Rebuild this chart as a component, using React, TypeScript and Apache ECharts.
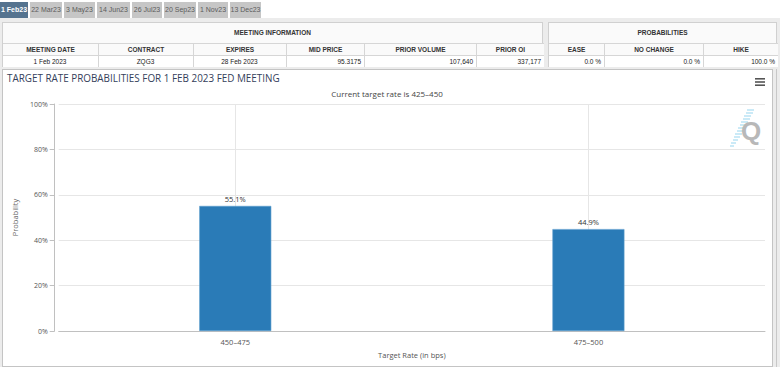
import React, { useEffect, useRef } from "react";
import * as echarts from "echarts";

const tabs = ["1 Feb23", "22 Mar23", "3 May23", "14 Jun23", "26 Jul23", "20 Sep23", "1 Nov23", "13 Dec23"];
const tabEdges = [0, 30, 64, 97, 132, 164, 198, 230, 263];

const meetingHeaders = ["MEETING DATE", "CONTRACT", "EXPIRES", "MID PRICE", "PRIOR VOLUME", "PRIOR OI"];
const meetingValues = ["1 Feb 2023", "ZQG3", "28 Feb 2023", "95.3175", "107,640", "337,177"];
const meetingAlign = ["center", "center", "center", "right", "right", "right"];
const meetingEdges = [2, 97, 192, 285, 363, 475, 543];

const probHeaders = ["EASE", "NO CHANGE", "HIKE"];
const probValues = ["0.0 %", "0.0 %", "100.0 %"];
const probEdges = [548, 603, 702, 777];

const categories = ["450–475", "475–500"];
const probabilities = [55.1, 44.9];

const FONT = "'Open Sans', 'DejaVu Sans', sans-serif";
const TFONT = "'Liberation Sans', Arial, sans-serif";

function InfoBox(props: {
  title: string;
  headers: string[];
  values: string[];
  edges: number[];
  align: string[];
}) {
  const { title, headers, values, edges, align } = props;
  const left = edges[0];
  const width = edges[edges.length - 1] - left;
  const cells: any[] = [];
  for (let i = 0; i < headers.length; i++) {
    const x = edges[i] - left;
    const w = edges[i + 1] - edges[i];
    cells.push(
      <div
        key={"h" + i}
        style={{
          position: "absolute", left: x, top: 20, width: w, height: 12, boxSizing: "border-box",
          borderTop: "1px solid #d6d6d6", borderLeft: i ? "1px solid #d6d6d6" : "none",
          fontSize: 6.5, fontWeight: "bold", color: "#333", textAlign: "center", lineHeight: "11px",
          background: "#fafafa",
        }}
      >
        {headers[i]}
      </div>
    );
    cells.push(
      <div
        key={"v" + i}
        style={{
          position: "absolute", left: x, top: 32, width: w, height: 12, boxSizing: "border-box",
          borderTop: "1px solid #d6d6d6", borderLeft: i ? "1px solid #d6d6d6" : "none",
          fontSize: 6.5, color: "#222", textAlign: align[i] as any, lineHeight: "11px",
          paddingRight: 3, paddingLeft: 2, background: "#fff",
        }}
      >
        {values[i]}
      </div>
    );
  }
  return (
    <div
      style={{
        position: "absolute", left, top: 22, width, height: 45, boxSizing: "border-box",
        border: "1px solid #d0d0d0", background: "#fafafa", fontFamily: TFONT,
      }}
    >
      <div
        style={{
          position: "absolute", left: 0, top: 0, width: width - 2, height: 20, textAlign: "center",
          lineHeight: "20px", fontSize: 6.5, fontWeight: "bold", color: "#333",
        }}
      >
        {title}
      </div>
      {cells}
    </div>
  );
}

export default function App() {
  const ref = useRef<HTMLDivElement>(null);

  useEffect(() => {
    document.body.style.margin = "0";
    const chart = echarts.init(ref.current!, null, { renderer: "svg" });
    const stripes: any[] = [];
    const stripeRows = [
      [738, 40, 745, 40], [737, 43, 744, 43], [735, 46, 742, 46], [734, 49, 741, 49],
      [732, 52, 739, 52], [731, 55, 738, 55], [729, 58, 737, 58], [728, 61, 735, 61],
      [726, 64, 733, 64], [725, 67, 731, 67], [724, 70, 729, 70], [722, 73, 727, 73],
      [721, 76, 725, 76],
    ];
    stripeRows.forEach((s) =>
      stripes.push({
        type: "line",
        shape: { x1: s[0] + 6, y1: s[1], x2: s[2] + 6, y2: s[3] },
        style: { stroke: "#a8dcf2", lineWidth: 1.2 },
        z: 1,
      })
    );
    chart.setOption({
      animation: false,
      backgroundColor: "#fff",
      title: [
        {
          text: "TARGET RATE PROBABILITIES FOR 1 FEB 2023 FED MEETING",
          left: 4,
          top: 3,
          padding: 0,
          textStyle: { fontFamily: FONT, fontSize: 9.9, fontWeight: "normal", color: "#34405a" },
        },
        {
          text: "Current target rate is 425–450",
          left: "center",
          top: 19,
          padding: 0,
          textStyle: { fontFamily: FONT, fontSize: 8, fontWeight: "normal", color: "#444" },
        },
      ],
      graphic: [
        { type: "rect", shape: { x: 752, y: 8, width: 10, height: 1.6 }, style: { fill: "#555" } },
        { type: "rect", shape: { x: 752, y: 11.2, width: 10, height: 1.6 }, style: { fill: "#555" } },
        { type: "rect", shape: { x: 752, y: 14.4, width: 10, height: 1.6 }, style: { fill: "#555" } },
        ...stripes,
        {
          type: "text",
          x: 738,
          y: 48,
          z: 2,
          style: { text: "Q", font: "bold 26px 'Liberation Sans', Arial", fill: "#b8b8b8" },
        },
      ],
      grid: { left: 50, right: 6, top: 34, bottom: 34, containLabel: false },
      xAxis: {
        type: "category",
        data: categories,
        name: "Target Rate (in bps)",
        nameLocation: "middle",
        nameGap: 19,
        nameTextStyle: { fontFamily: FONT, fontSize: 7.5, color: "#555" },
        axisLine: { lineStyle: { color: "#c0c0c0" } },
        axisTick: { alignWithLabel: true, length: 5, lineStyle: { color: "#c0c0c0" } },
        axisLabel: { fontFamily: FONT, fontSize: 7.5, color: "#555", margin: 7 },
        splitLine: { show: true, alignWithLabel: true, lineStyle: { color: "#e6e6e6" } },
      },
      yAxis: {
        type: "value",
        min: 0,
        max: 100,
        interval: 20,
        offset: 4,
        name: "Probability",
        nameLocation: "middle",
        nameGap: 31,
        nameTextStyle: { fontFamily: FONT, fontSize: 7.5, color: "#666" },
        axisLine: { show: true, lineStyle: { color: "#c0c0c0" } },
        axisTick: { show: true, length: 5, lineStyle: { color: "#c0c0c0" } },
        axisLabel: { fontFamily: FONT, fontSize: 7, color: "#555", margin: 7, formatter: "{value}%" },
        splitLine: { lineStyle: { color: "#e6e6e6" } },
      },
      series: [
        {
          type: "bar",
          data: probabilities,
          barWidth: 72,
          z: 3,
          itemStyle: { color: "#2a7bb7", borderColor: "#5a9ccc", borderWidth: 0.6 },
          label: {
            show: true,
            position: "top",
            distance: 3,
            formatter: (p: any) => p.value.toFixed(1) + "%",
            fontFamily: FONT,
            fontSize: 7.5,
            color: "#333",
          },
        },
      ],
    });
    return () => chart.dispose();
  }, []);

  return (
    <div
      style={{
        position: "fixed", left: 0, top: 0, width: 780, height: 367, background: "#ececec",
        overflow: "hidden", fontFamily: TFONT,
      }}
    >
      <div style={{ position: "absolute", left: 0, top: 0, width: 780, height: 18, background: "#fff" }} />
      {tabs.map((t, i) => (
        <div
          key={t}
          style={{
            position: "absolute", left: tabEdges[i], top: 2, width: tabEdges[i + 1] - tabEdges[i] - 2, height: 16,
            background: i === 0 ? "#55738f" : "#c6c6c6", color: i === 0 ? "#fff" : "#5c5c5c",
            fontSize: 7, lineHeight: "16px", textAlign: "center", whiteSpace: "nowrap",
            fontWeight: i === 0 ? "bold" : "normal",
          }}
        >
          {t}
        </div>
      ))}
      <InfoBox
        title="MEETING INFORMATION"
        headers={meetingHeaders}
        values={meetingValues}
        edges={meetingEdges}
        align={meetingAlign}
      />
      <InfoBox
        title="PROBABILITIES"
        headers={probHeaders}
        values={probValues}
        edges={probEdges}
        align={["right", "right", "right"]}
      />
      <div
        style={{
          position: "absolute", left: 2, top: 69, width: 771, height: 298, boxSizing: "border-box",
          border: "1px solid #c4c4c4", background: "#fff",
        }}
      />
      <div style={{ position: "absolute", left: 776, top: 69, width: 1, height: 298, background: "#c8c8c8" }} />
      <div ref={ref} style={{ position: "absolute", left: 3, top: 70, width: 768, height: 295 }} />
    </div>
  );
}
